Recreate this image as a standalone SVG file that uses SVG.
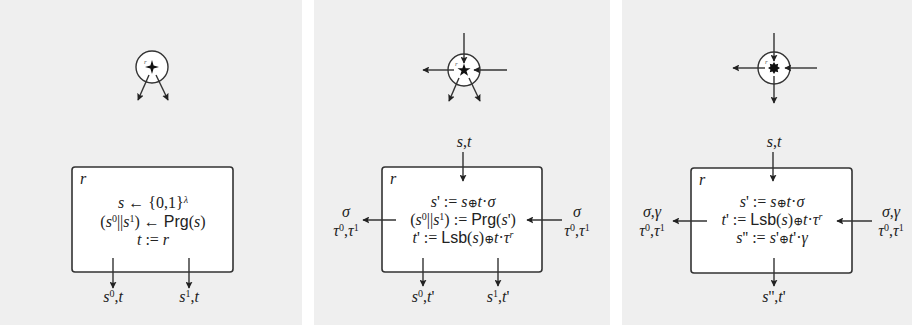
<svg xmlns="http://www.w3.org/2000/svg" width="912" height="325" viewBox="0 0 912 325">
<defs>
<marker id="ah" viewBox="0 0 10 10" refX="9" refY="5" markerWidth="7" markerHeight="7" markerUnits="userSpaceOnUse" orient="auto">
<path d="M0,0 L10,5 L0,10 L2,5 Z" fill="#222"/>
</marker>
<style>
.panel{fill:#efefef}
.box{fill:#fff;stroke:#333;stroke-width:1.6}
.circ{fill:#fff;stroke:#333;stroke-width:1.4}
.c{stroke:#333;stroke-width:1.4;fill:none;marker-end:url(#ah)}
.m{font-family:"Liberation Serif","DejaVu Serif",serif;font-size:16px;fill:#222;text-anchor:middle}
.i{font-style:italic}
.sf{font-family:"Liberation Sans","DejaVu Sans",sans-serif;font-style:normal;font-size:16px}
.sup{font-size:10px;baseline-shift:super}
.op{font-size:12px}
.rl{font-family:"Liberation Serif",serif;font-style:italic;font-size:16px;fill:#222}
.rs{font-family:"Liberation Serif",serif;font-style:italic;font-size:7px;fill:#555}
.star{fill:#111}
</style>
</defs>
<rect class="panel" x="0" y="0" width="302" height="325"/>
<rect class="panel" x="314" y="0" width="296" height="325"/>
<rect class="panel" x="622" y="0" width="290" height="325"/>

<!-- Panel 1 -->
<g id="party1">
<circle class="circ" cx="152" cy="67" r="16"/>
<text class="rs" x="144" y="64">r</text>
<path class="star" d="M152,60 L153.6,65.4 L159,67 L153.6,68.6 L152,74 L150.4,68.6 L145,67 L150.4,65.4 Z"/>
</g>
<g id="box1">
<rect class="box" x="72" y="167" width="161" height="105" rx="3"/>
<text class="rl" x="80" y="184">r</text>
<text class="m" x="153" y="208"><tspan class="i">s</tspan> ← {0,1}<tspan class="sup i">λ</tspan></text>
<text class="m" x="153" y="227">(<tspan class="i">s</tspan><tspan class="sup">0</tspan>||<tspan class="i">s</tspan><tspan class="sup">1</tspan>) ← <tspan class="sf">Prg</tspan>(<tspan class="i">s</tspan>)</text>
<text class="m" x="153" y="245"><tspan class="i">t</tspan> := <tspan class="i">r</tspan></text>
</g>
<g id="out1a"><text class="m" x="113" y="302"><tspan class="i">s</tspan><tspan class="sup">0</tspan>,<tspan class="i">t</tspan></text></g>
<g id="out1b"><text class="m" x="189" y="302"><tspan class="i">s</tspan><tspan class="sup">1</tspan>,<tspan class="i">t</tspan></text></g>

<!-- Panel 2 -->
<g id="party2">
<circle class="circ" cx="464" cy="70" r="16"/>
<text class="rs" x="455" y="66">r</text>
<path class="star" d="M464,63.5 L465.6,68.2 L470.5,68.2 L466.5,71.1 L468,75.8 L464,72.9 L460,75.8 L461.5,71.1 L457.5,68.2 L462.4,68.2 Z"/>
</g>
<g id="in2"><text class="m" x="464" y="147"><tspan class="i">s</tspan>,<tspan class="i">t</tspan></text></g>
<g id="box2">
<rect class="box" x="382" y="167" width="160" height="105" rx="3"/>
<text class="rl" x="390" y="184">r</text>
<text class="m" x="463" y="207"><tspan class="i">s</tspan>' := <tspan class="i">s</tspan><tspan class="op">⊕</tspan><tspan class="i">t</tspan>·<tspan class="i">σ</tspan></text>
<text class="m" x="463" y="225">(<tspan class="i">s</tspan><tspan class="sup">0</tspan>||<tspan class="i">s</tspan><tspan class="sup">1</tspan>) := <tspan class="sf">Prg</tspan>(<tspan class="i">s</tspan>')</text>
<text class="m" x="463" y="243"><tspan class="i">t</tspan>' := <tspan class="sf">Lsb</tspan>(<tspan class="i">s</tspan>)<tspan class="op">⊕</tspan><tspan class="i">t</tspan>·<tspan class="i">τ</tspan><tspan class="sup i">r</tspan></text>
</g>
<g id="left2">
<text class="m" x="346" y="217"><tspan class="i">σ</tspan></text>
<text class="m" x="346" y="236"><tspan class="i">τ</tspan><tspan class="sup">0</tspan>,<tspan class="i">τ</tspan><tspan class="sup">1</tspan></text>
</g>
<g id="right2">
<text class="m" x="577" y="217"><tspan class="i">σ</tspan></text>
<text class="m" x="577" y="236"><tspan class="i">τ</tspan><tspan class="sup">0</tspan>,<tspan class="i">τ</tspan><tspan class="sup">1</tspan></text>
</g>
<g id="out2a"><text class="m" x="423" y="302"><tspan class="i">s</tspan><tspan class="sup">0</tspan>,<tspan class="i">t</tspan>'</text></g>
<g id="out2b"><text class="m" x="498" y="302"><tspan class="i">s</tspan><tspan class="sup">1</tspan>,<tspan class="i">t</tspan>'</text></g>

<!-- Panel 3 -->
<g id="party3">
<circle class="circ" cx="774" cy="68" r="16"/>
<text class="rs" x="765" y="64">r</text>
<path class="star" d="M774,62 L775.5,64.4 L778.2,63.8 L777.6,66.5 L780,68 L777.6,69.5 L778.2,72.2 L775.5,71.6 L774,74 L772.5,71.6 L769.8,72.2 L770.4,69.5 L768,68 L770.4,66.5 L769.8,63.8 L772.5,64.4 Z"/>
</g>
<g id="in3"><text class="m" x="774" y="147"><tspan class="i">s</tspan>,<tspan class="i">t</tspan></text></g>
<g id="box3">
<rect class="box" x="691" y="168" width="161" height="105" rx="3"/>
<text class="rl" x="699" y="185">r</text>
<text class="m" x="772" y="207"><tspan class="i">s</tspan>' := <tspan class="i">s</tspan><tspan class="op">⊕</tspan><tspan class="i">t</tspan>·<tspan class="i">σ</tspan></text>
<text class="m" x="772" y="225"><tspan class="i">t</tspan>' := <tspan class="sf">Lsb</tspan>(<tspan class="i">s</tspan>)<tspan class="op">⊕</tspan><tspan class="i">t</tspan>·<tspan class="i">τ</tspan><tspan class="sup i">r</tspan></text>
<text class="m" x="772" y="243"><tspan class="i">s</tspan>'' := <tspan class="i">s</tspan>'<tspan class="op">⊕</tspan><tspan class="i">t</tspan>'·<tspan class="i">γ</tspan></text>
</g>
<g id="left3">
<text class="m" x="652" y="217"><tspan class="i">σ</tspan>,<tspan class="i">γ</tspan></text>
<text class="m" x="652" y="236"><tspan class="i">τ</tspan><tspan class="sup">0</tspan>,<tspan class="i">τ</tspan><tspan class="sup">1</tspan></text>
</g>
<g id="right3">
<text class="m" x="891" y="217"><tspan class="i">σ</tspan>,<tspan class="i">γ</tspan></text>
<text class="m" x="891" y="236"><tspan class="i">τ</tspan><tspan class="sup">0</tspan>,<tspan class="i">τ</tspan><tspan class="sup">1</tspan></text>
</g>
<g id="out3"><text class="m" x="774" y="302"><tspan class="i">s</tspan>'',<tspan class="i">t</tspan>'</text></g>

<g id="connectors">
<line class="c" x1="149" y1="75" x2="138" y2="100"/>
<line class="c" x1="156" y1="75" x2="168" y2="100"/>
<line class="c" x1="113" y1="258" x2="113" y2="288"/>
<line class="c" x1="189" y1="258" x2="189" y2="288"/>

<line class="c" x1="464" y1="33" x2="464" y2="63"/>
<line class="c" x1="507" y1="70" x2="474" y2="70"/>
<line class="c" x1="454" y1="70" x2="423" y2="70"/>
<line class="c" x1="459" y1="78" x2="449" y2="101"/>
<line class="c" x1="469" y1="78" x2="480" y2="101"/>
<line class="c" x1="463" y1="152" x2="463" y2="181"/>
<line class="c" x1="396" y1="220" x2="363" y2="220"/>
<line class="c" x1="562" y1="220" x2="527" y2="220"/>
<line class="c" x1="423" y1="258" x2="423" y2="286"/>
<line class="c" x1="498" y1="258" x2="498" y2="286"/>

<line class="c" x1="774" y1="33" x2="774" y2="61"/>
<line class="c" x1="817" y1="68" x2="785" y2="68"/>
<line class="c" x1="765" y1="68" x2="733" y2="68"/>
<line class="c" x1="774" y1="76" x2="774" y2="103"/>
<line class="c" x1="773" y1="152" x2="773" y2="181"/>
<line class="c" x1="707" y1="221" x2="673" y2="221"/>
<line class="c" x1="872" y1="221" x2="837" y2="221"/>
<line class="c" x1="774" y1="258" x2="774" y2="286"/>
</g>
</svg>
